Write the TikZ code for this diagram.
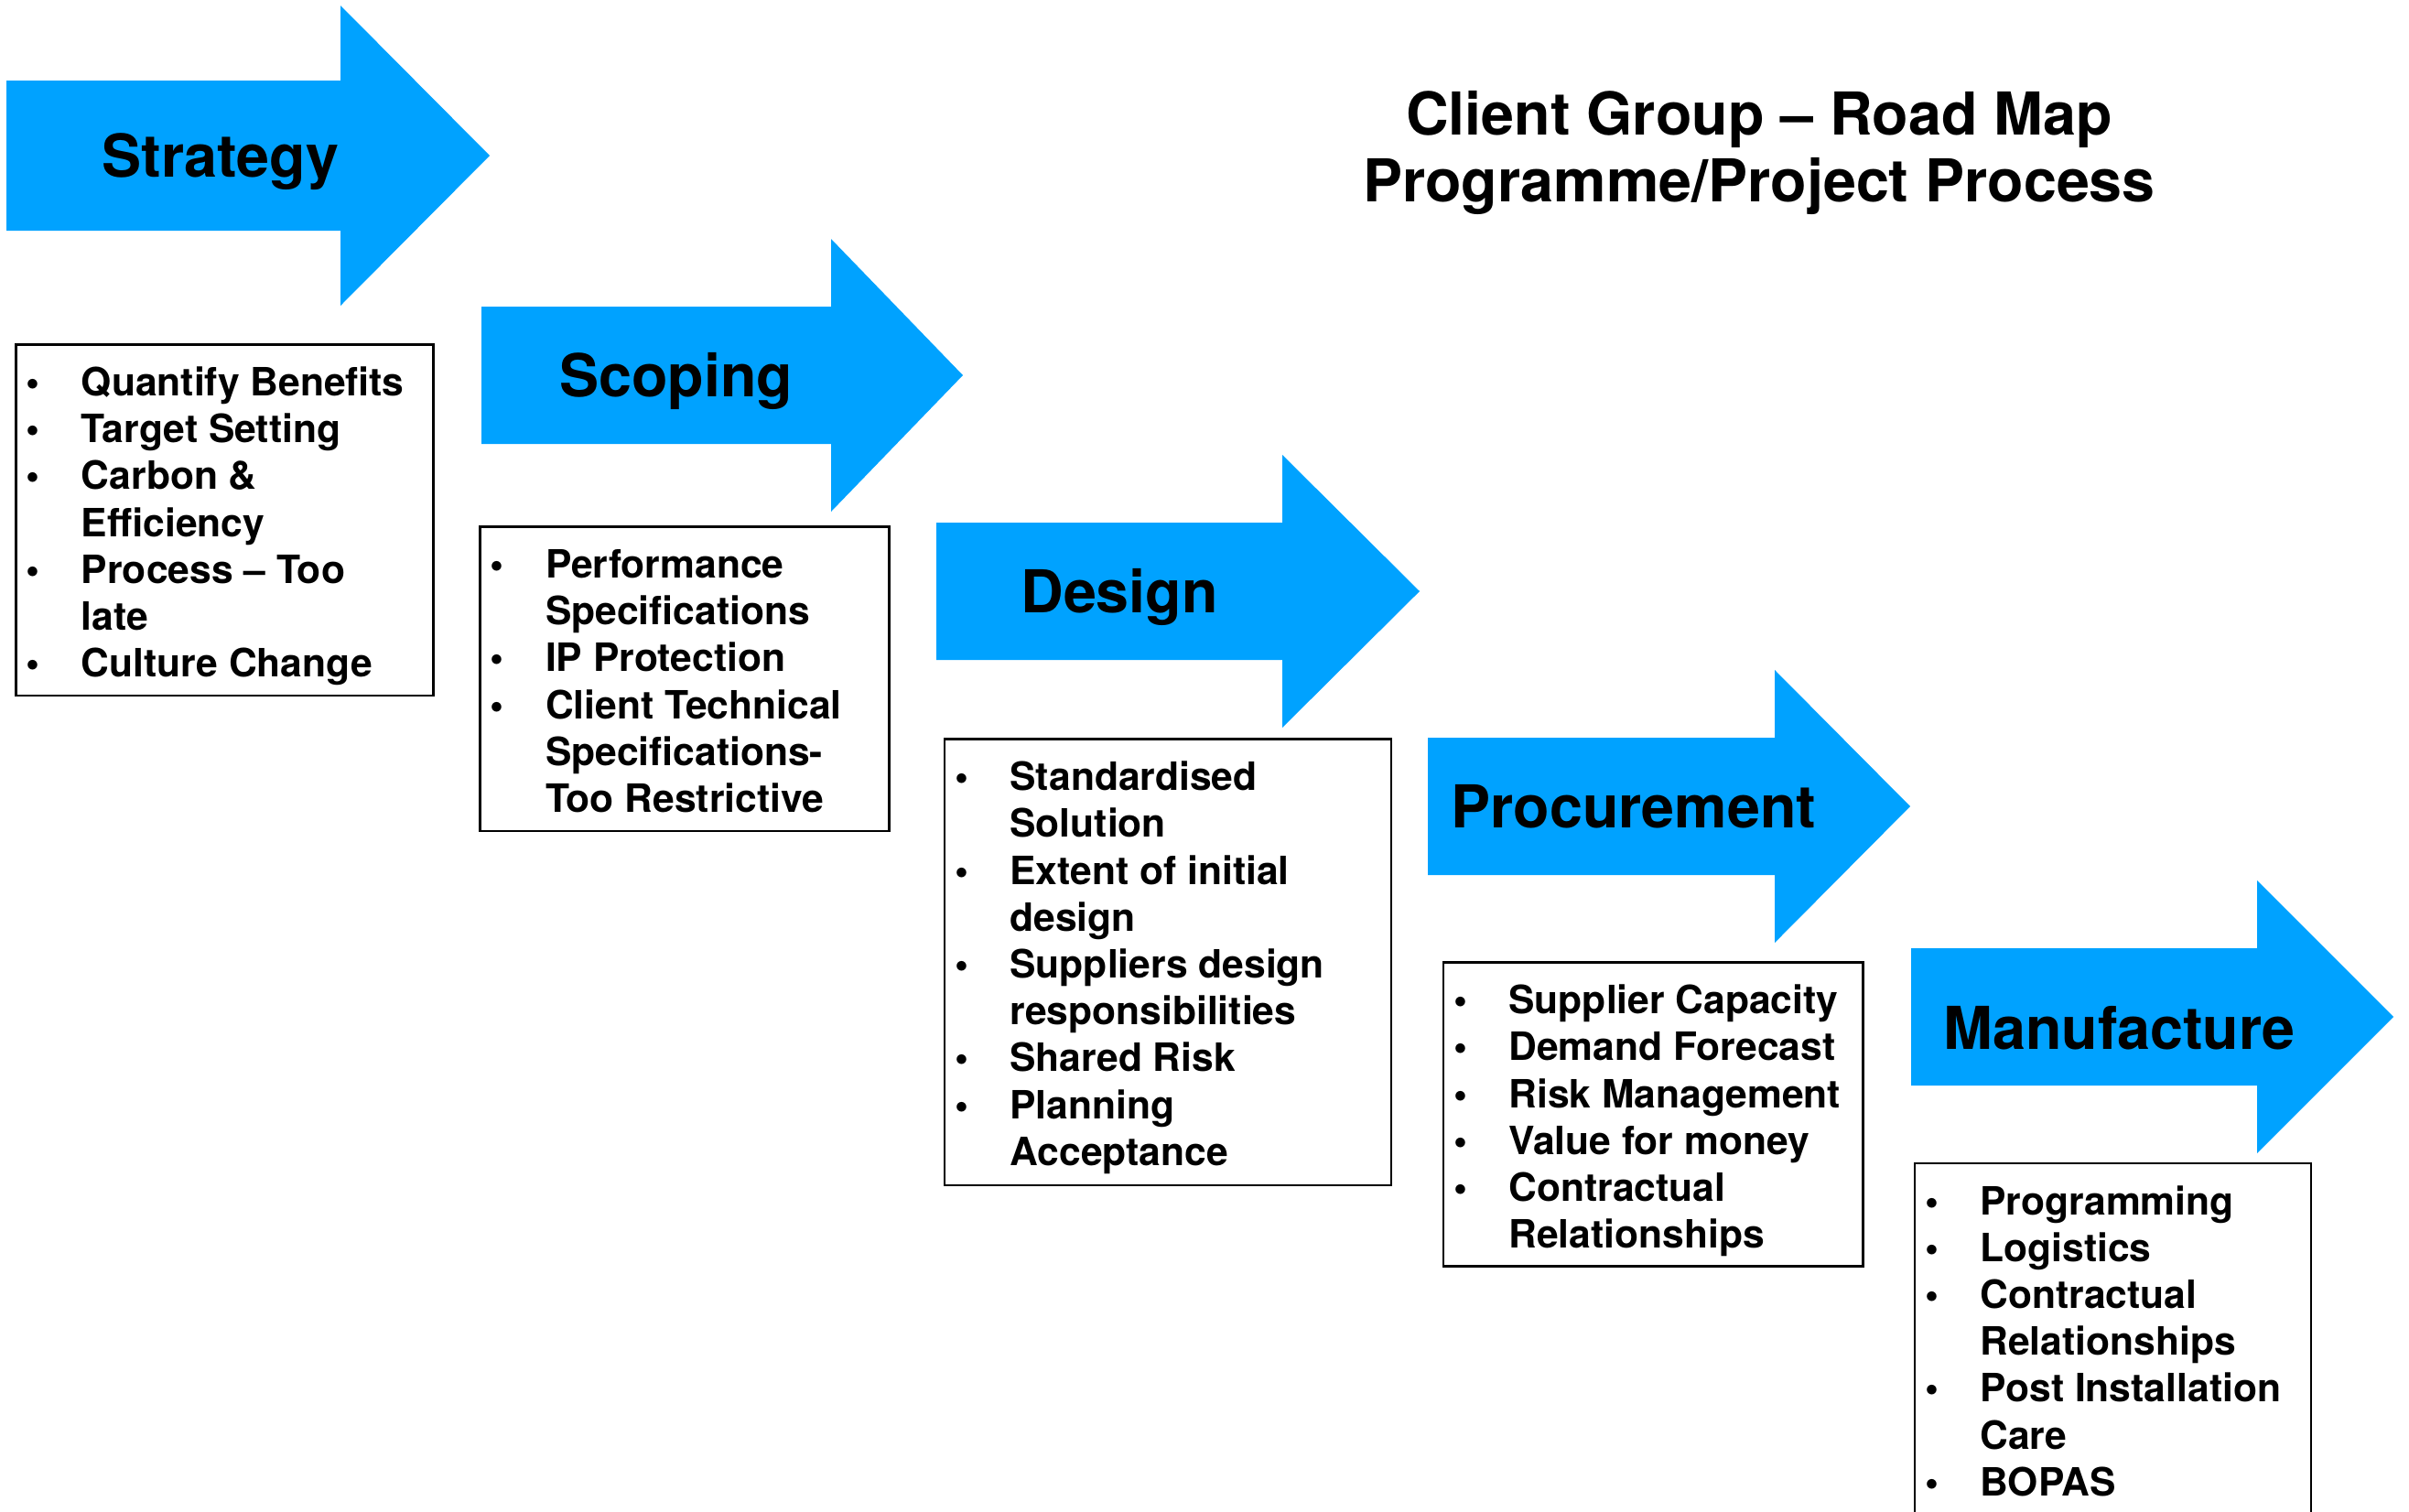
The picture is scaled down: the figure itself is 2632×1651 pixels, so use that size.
\documentclass[tikz,border=0pt]{standalone}
\usepackage{fontspec}
\setmainfont{TeX Gyre Heros}
\usepackage{xcolor}
\usepackage{tikz}
\definecolor{stageblue}{HTML}{00A2FF}
\definecolor{ink}{HTML}{000000}
\newcommand{\listfont}{\fontsize{21.3}{25.6}\selectfont\bfseries}
\newcommand{\bul}{\textbullet}
\newcommand{\steplist}[3]{\parbox[t][#2][t]{#1}{\vspace*{10.1pt}\listfont
  \begin{tabular}[t]{@{\hspace{5.5pt}}p{30.25pt}@{}l@{}}#3\end{tabular}}}
\tikzset{
  stage/.style={fill=stageblue},
  stagelab/.style={anchor=base west, inner sep=0pt, text=ink, font=\fontsize{32.3}{36}\selectfont\bfseries},
  listbox/.style={draw=ink, line width=1.3pt, anchor=north west, inner sep=0pt, outer sep=0pt},
  title/.style={anchor=base, align=center, inner sep=0pt, text=ink, font=\fontsize{32.3}{36.5}\selectfont\bfseries},
}

\begin{document}
\begin{tikzpicture}[x=0.5pt,y=-0.5pt]
  \useasboundingbox (0,0) rectangle (2632,1651);
  \clip (0,0) rectangle (2632,1651);

  % stage arrows: shaft start / head base / tip / axis / half shaft / half head
  \foreach \xa/\xb/\xc/\yc/\hs/\hh in {7/372/535/170/82/164, 526/908/1052/410/75/149,
      1023/1401/1551/646/75/149, 1560/1939/2087/881/75/149, 2088/2466/2615/1111/75/149}
    \fill[stage] (\xa,\yc-\hs) -- (\xb,\yc-\hs) -- (\xb,\yc-\hh) -- (\xc,\yc)
      -- (\xb,\yc+\hh) -- (\xb,\yc+\hs) -- (\xa,\yc+\hs) -- cycle;

  \foreach \n/\t/\x/\y in {strategy/Strategy/111/193, scoping/Scoping/611/433,
      design/Design/1115/669, procurement/Procurement/1585/904, manufacture/Manufacture/2123/1146}
    \node[stagelab] (\n) at (\x,\y) {\t};

  \node[title] (title) at (1922,220) {Client Group -- Road Map\\Programme/Project Process};

  \node[listbox] (strategylist) at (17.5,376.5) {\steplist{228pt}{191.75pt}{%
    \bul & Quantify Benefits\\ \bul & Target Setting\\ \bul & Carbon \&\\ & Efficiency\\
    \bul & Process -- Too\\ & late\\ \bul & Culture Change}};
  \node[listbox] (scopinglist) at (524.5,575.5) {\steplist{223.5pt}{166.25pt}{%
    \bul & Performance\\ & Specifications\\ \bul & IP Protection\\ \bul & Client Technical\\
    & Specifications-\\ & Too Restrictive}};
  \node[listbox] (designlist) at (1032,807.6) {\steplist{244pt}{243.7pt}{%
    \bul & Standardised\\ & Solution\\ \bul & Extent of initial\\ & design\\
    \bul & Suppliers design\\ & responsibilities\\ \bul & Shared Risk\\ \bul & Planning\\ & Acceptance}};
  \node[listbox] (procurementlist) at (1577,1051.6) {\steplist{229.25pt}{166pt}{%
    \bul & Supplier Capacity\\ \bul & Demand Forecast\\ \bul & Risk Management\\
    \bul & Value for money\\ \bul & Contractual\\ & Relationships}};
  \node[listbox] (manufacturelist) at (2092,1271) {\steplist{216.5pt}{215pt}{%
    \bul & Programming\\ \bul & Logistics\\ \bul & Contractual\\ & Relationships\\
    \bul & Post Installation\\ & Care\\ \bul & BOPAS}};
\end{tikzpicture}
\end{document}
